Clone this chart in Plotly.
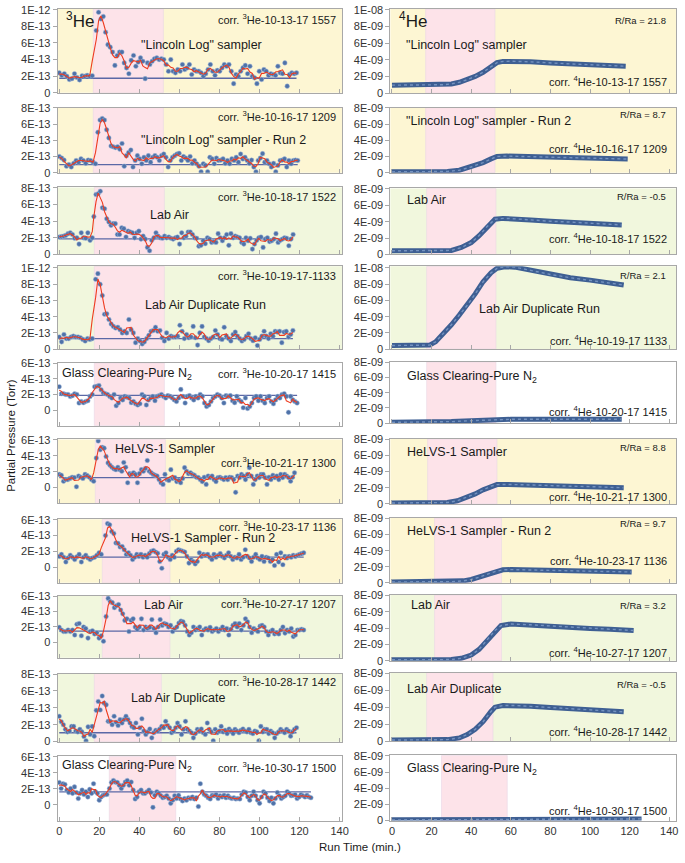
import numpy as np
import pandas as pd
import plotly.graph_objects as go

W, H = 685, 863

# ---------------- 3He data (partial pressure, units of 1E-13 Torr) ----------------
# each run: points before the sample inlet ("pre") and after ("post")
he3_pre_1 = [2.4, 2.1, 2.3, 2.0, 1.6, 1.7, 2.3, 1.85, 1.55, 2.05, 2.0, 2.1, 2.0, 2.05]
he3_post_1 = [7.5, 9.7, 8.9, 9.2, 7.3, 5.8, 5.5, 4.9, 3.3, 4.5, 4.9, 4.9, 3.6, 3.0, 2.3, 3.9, 4.5, 3.2, 3.7, 4.2,
              3.8, 1.7, 3.6, 3.4, 3.8, 4.1, 4.2, 4.0, 4.1, 4.0, 3.4, 2.6, 4.0, 2.6, 2.4, 2.8, 2.6, 3.4, 2.8, 3.0,
              3.4, 2.2, 2.8, 2.6, 2.6, 2.4, 2.0, 2.3, 2.8, 3.4, 2.6, 2.1, 2.7, 2.6, 3.0, 3.4, 3.2, 3.4, 2.6, 1.1,
              2.2, 2.0, 2.6, 3.0, 3.3, 2.3, 3.2, 2.0, 1.8, 1.1, 2.6, 1.6, 2.8, 2.6, 2.1, 2.3, 2.2, 2.1, 3.2, 2.4,
              2.3, 3.6, 0.8, 2.2, 2.4, 2.3, 2.4]
he3_pre_2 = [2.0, 1.8, 1.55, 0.8, 1.0, 0.7, 1.15, 1.5, 1.3, 1.7, 1.5, 1.15, 1.55, 1.5, 1.3, 1.1]
he3_post_2 = [5.0, 6.5, 6.7, 6.5, 5.3, 4.3, 3.3, 3.2, 3.1, 3.2, 2.9, 3.6, 0.8, 2.1, 2.5, 2.8, 0.7, 1.5, 2.1, 1.7,
              1.1, 1.9, 1.5, 2.1, 1.3, 1.9, 2.1, 1.9, 1.5, 2.1, 2.3, 1.9, 0.7, 1.5, 1.9, 2.1, 2.3, 2.4, 1.5, 2.0,
              1.8, 1.5, 2.0, 1.15, 1.5, 1.1, 0.8, 0.1, 1.1, 0.9, 0.1, 1.9, 1.7, 1.1, 1.8, 1.5, 1.55, 1.7, 1.15, 1.5,
              1.1, 1.7, 1.5, 1.9, 1.3, 2.3, 1.7, 1.9, 1.5, 1.15, 1.55, 0.7, 0.1, 1.5, 1.8, 2.35, 1.3, 1.5, 1.1, 0.7,
              1.15, 0.1, 0.9, 1.5, 1.55, 1.7, 0.7, 1.5, 1.1, 1.5, 1.55, 1.5]
he3_pre_3 = [2.1, 2.15, 2.2, 2.3, 2.5, 2.6, 2.4, 1.95, 2.0, 1.25, 2.6, 2.0, 1.95, 2.6, 1.7, 2.0]
he3_post_3 = [4.55, 7.2, 7.3, 7.6, 5.6, 5.5, 4.3, 3.9, 3.5, 3.7, 3.7, 2.4, 2.4, 3.2, 3.1, 2.1, 2.8, 2.7, 2.6, 2.0,
              2.6, 2.8, 1.85, 2.2, 1.85, 0.85, 0.45, 1.7, 2.0, 2.6, 2.2, 2.0, 1.95, 2.2, 2.0, 2.1, 1.95, 1.85, 2.0, 2.1,
              1.25, 2.6, 2.0, 2.2, 2.7, 2.7, 2.4, 2.0, 1.95, 1.0, 1.1, 1.65, 1.3, 2.0, 1.85, 1.45, 1.55, 1.45, 2.5, 2.0,
              1.65, 2.0, 2.4, 1.1, 2.5, 2.0, 2.2, 2.1, 2.0, 1.45, 1.25, 2.0, 1.65, 1.95, 0.65, 1.25, 1.7, 2.0, 2.1, 0.85,
              1.85, 2.0, 1.55, 1.65, 1.85, 2.5, 1.45, 1.7, 1.85, 2.0, 1.95, 1.05, 1.85, 2.4]
he3_pre_4 = [1.5, 0.9, 1.8, 1.3, 1.3, 1.5, 1.6, 1.5, 1.5, 1.4, 1.2, 1.0, 1.3, 1.2, 1.3]
he3_post_4 = [8.6, 9.3, 8.0, 6.6, 4.3, 4.35, 3.65, 3.1, 2.8, 2.6, 2.7, 2.4, 2.0, 2.2, 2.0, 3.65, 2.4, 2.0, 0.8, 1.3,
              1.0, 0.65, 0.9, 1.3, 1.7, 2.2, 2.3, 2.7, 2.2, 2.3, 1.4, 1.0, 2.0, 1.3, 1.6, 1.5, 1.5, 1.6, 2.95, 2.2,
              1.3, 1.8, 1.4, 1.5, 2.8, 1.4, 0.5, 2.0, 2.8, 1.5, 1.3, 1.05, 1.3, 1.5, 2.3, 1.8, 1.3, 1.2, 2.7, 1.6,
              1.3, 1.0, 1.8, 2.1, 1.6, 1.3, 1.0, 1.2, 1.6, 1.9, 1.3, 1.05, 1.4, 0.45, 1.2, 1.6, 2.2, 1.6, 1.3, 1.9,
              1.6, 2.2, 2.1, 2.2, 0.8, 2.1, 2.2, 1.5, 1.8, 2.3]
he3_pre_5 = [3.0, 2.1, 2.1, 2.0, 2.0, 1.75, 1.85, 2.1, 2.0, 0.9, 1.1, 0.95, 1.1, 1.2, 1.75, 2.0]
he3_post_5 = [3.0, 3.05, 3.15, 2.6, 2.2, 2.1, 2.0, 1.75, 1.55, 2.0, 0.55, 0.9, 1.55, 1.3, 1.75, 1.65, 1.55, 0.95, 1.1, 0.8,
              0.65, 0.8, 2.0, 1.75, 0.65, 1.3, 1.55, 1.75, 1.2, 1.75, 1.85, 2.0, 1.75, 1.55, 1.85, 1.75, 1.55, 1.3, 1.1, 1.55,
              2.65, 1.75, 0.9, 1.75, 1.85, 1.55, 1.3, 1.75, 1.55, 2.0, 1.75, 0.9, 0.45, 0.65, 1.1, 1.55, 1.75, 2.0, 1.85, 1.55,
              0.9, 1.85, 1.75, 1.85, 1.2, 0.95, 1.75, 1.3, 1.1, 0.3, 1.55, 0.2, 0.45, 0.9, 1.55, 1.75, 1.2, 1.75, 1.2, 0.9,
              1.55, 1.75, 1.1, 0.8, 1.3, 1.75, 1.55, 2.0, 2.1, 1.75, -0.3, 1.75, 1.3, 1.1, 0.9]
he3_pre_6 = [1.65, 1.55, 0.8, 1.0, 1.0, 1.15, 1.3, 1.25, 0.1, 1.45, 1.3, 1.15, 1.65, 1.5, 1.3, 1.0, 0.8]
he3_post_6 = [3.7, 5.85, 4.75, 5.05, 4.95, 3.9, 3.1, 2.8, 2.55, 2.35, 2.25, 2.55, 2.25, 2.05, 3.15, 2.55, 0.6, 1.75, 1.65, 1.85,
              1.65, 0.6, 1.75, 2.25, 2.05, 2.4, 3.4, 2.05, 1.85, 1.65, 1.55, 1.45, 1.0, 0.6, 0.4, 1.65, 1.0, 0.9, 2.25, 1.15,
              1.25, 0.75, 0.9, 0.6, 1.15, 2.5, 2.05, 1.75, 1.85, 1.65, 1.55, 1.3, 1.25, 1.0, 0.75, 1.3, 0.4, 1.45, 1.25, 1.45,
              1.0, 0.75, 1.25, 1.3, 1.15, 1.0, 1.25, 1.0, 1.3, 1.25, 1.0, -0.6, 1.45, 1.25, 1.65, 1.45, 1.0, 1.65, 2.5, 1.45,
              0.4, 1.0, 1.45, 1.25, 1.65, 1.65, 1.25, 0.4, 1.3, 1.0, 1.55, 1.25, 1.45, 1.0, 1.65, 1.25, 1.65, 1.45, 1.25, 0.8,
              1.3, 1.85]
he3_pre_7 = [1.35, 1.6, 1.25, 0.65, 1.15, 1.5, 1.25, 0.95, 1.3, 1.6, 0.65, 1.25, 1.5, 1.15, 0.95, 1.15, 1.25, 1.5, 1.8, 1.6]
he3_post_7 = [4.0, 5.5, 5.35, 4.5, 4.25, 3.05, 3.0, 2.55, 2.6, 2.2, 1.6, 1.8, 1.5, 0.95, 1.25, 1.6, 1.35, 1.6, 1.25, 1.5,
              1.25, 1.7, 2.0, 2.1, 1.9, 1.75, 0.7, -0.15, 1.6, 1.8, 1.25, 0.95, 1.5, 1.25, 2.0, 2.2, 2.1, 2.0, 1.9, 1.35,
              0.5, 0.95, 0.7, 0.4, 0.7, 1.8, 1.35, 1.6, 1.5, 1.6, 1.25, 0.95, 1.6, 1.25, 1.5, 1.7, 1.35, 1.15, 1.5, 1.8,
              1.35, 0.95, 1.25, 1.15, 1.6, 0.95, 1.25, 2.2, 1.35, 1.15, 0.7, 1.25, 1.6, 1.15, 0.95, 1.35, 0.7, 1.25, 1.15, 0.7,
              0.95, 0.2, 1.6, 0.65, 1.8, 0.3, 1.35, 1.15, 1.35, 1.25, 1.5, 1.35, 1.5, 1.6, 1.7, 1.8]
he3_pre_8 = [1.95, 1.6, 1.4, 1.4, 1.6, 1.4, 1.6, 0.95, 2.35, 2.45, 0.85, 2.0, 1.8, 0.55, 1.4, 1.5, 1.1, 1.25, 0.55, 0.85, 0.15]
he3_post_8 = [3.35, 5.7, 5.3, 5.15, 4.5, 4.75, 4.9, 4.2, 3.7, 2.85, 3.05, 1.4, 2.85, 3.05, 2.0, 1.7, 2.0, 3.05, 1.6, 2.0,
              1.8, 1.95, 2.95, 1.8, 1.25, 2.0, 2.95, 2.2, 2.45, 2.35, 2.0, 2.2, 1.4, 1.8, 2.0, 2.5, 2.75, 2.65, 2.2, 1.4,
              0.95, 1.25, 2.0, 1.6, 1.8, 2.0, 0.95, 1.6, 1.8, 1.6, 1.95, 1.4, 1.6, 1.8, 1.4, 1.7, 2.0, 1.6, 1.8, 0.95,
              1.7, 2.2, 2.45, 2.0, 2.45, 1.6, 2.2, 3.05, 2.65, 2.0, 1.25, 1.8, 1.6, 1.4, 2.1, 2.2, 2.0, 1.4, 0.95, 1.4,
              1.6, 1.1, 1.25, 1.1, 1.6, 2.0, 1.2, 1.6, 1.4, 1.8, 0.75, 0.95, 1.6, 1.6, 1.7, 1.6]
he3_pre_9 = [3.0, 2.35, 2.0, 1.45, 1.15, 1.25, 1.8, 1.8, 1.25, 1.15, 1.45, 1.15, 0.6, 0.1, 1.75, 0.85, 1.8, 0.65]
he3_post_9 = [3.7, 4.75, 3.75, 5.4, 4.55, 4.35, 2.4, 2.4, 2.0, 3.0, 2.3, 1.9, 2.6, 2.2, 2.6, 3.0, 2.6, 2.2, 1.8, 1.65,
              2.2, 0.85, 1.65, 2.7, 1.25, 0.85, 1.15, 1.5, 0.45, 1.05, 1.35, 1.25, 1.5, 1.8, 1.65, 2.4, 1.9, 1.65, 1.05, 1.25,
              1.65, 2.2, 1.8, 0.85, 1.45, 2.4, 1.45, 1.25, 1.05, 0.45, 0.95, 1.45, 1.25, 1.5, 1.05, 0.85, 2.2, 1.45, 1.15, 0.1,
              1.45, 1.05, 1.25, 1.8, 1.15, 1.35, 0.95, 1.5, 1.25, 0.95, 1.45, 1.25, 1.05, 1.35, 1.5, 1.25, 1.15, 1.45, 1.05, 0.95,
              1.25, 1.15, 0.1, 1.8, 1.15, 1.45, 1.45, 0.95, 1.25, 1.05, 0.45, 0.95, 1.15, 1.45, 1.25, 1.05, 1.45, 1.25, 0.65, 1.15,
              1.45, 1.65]
he3_pre_10 = [2.8, 2.05, 2.65, 2.55, 1.85, 1.55, 2.05, 1.45, 2.25, 1.55, 0.8, 1.45, 1.85, 1.3, 1.65, 1.0, 1.95, 1.45,
              2.65, 1.65, 1.45, 0.6, 1.0, 1.2, 1.3, 1.3]
he3_post_10 = [2.05, 2.8, 3.05, 2.85, 2.8, 2.45, 2.05, 2.45, 2.85, 3.05, 2.45, 2.85, 1.85, 0.75, 1.0, 1.65, 1.85, 1.45, 1.45, 1.65,
               1.85, 1.55, -0.3, 1.2, 1.65, 1.45, 1.15, 0.9, 1.0, 1.15, 0.8, 0.2, 0.6, 1.15, 0.8, 1.2, 0.75, 0.5, 0.8, 0.6,
               0.9, 0.8, 1.0, 0.75, 0.9, -0.2, 2.65, 1.65, 1.3, 1.15, 0.9, 0.75, 1.2, 1.15, 1.3, 0.8, 1.15, 1.0, 1.2, 0.9,
               1.15, 0.9, 0.8, 0.9, 0.75, 0.8, 0.75, 1.3, 1.65, 1.55, 1.0, 0.6, 1.15, 1.65, 1.15, 0.6, 0.2, 1.0, 1.65, 1.45,
               0.9, 0.5, 0.9, 0.2, 0.8, 1.55, 1.15, 0.8, 1.0, 1.15, 1.65, 1.45, 1.15, 1.2, 1.3, 0.8, 1.0, 1.3, 1.15, 1.0,
               1.2, 1.0, 0.9]

# sampling times (min): end of pre-inlet points, first and last post-inlet points
he3_pre_end = [16.5, 18.1, 16.5, 16.5, 16.5, 17.2, 21.0, 22.1, 17.5, 23.8]
he3_post_start = [18.5, 19.3, 17.3, 18.2, 17.7, 18.5, 23.1, 23.4, 18.5, 25.1]
he3_post_end = [118.5, 119.1, 116.8, 116.7, 118.8, 117.5, 122.1, 122.1, 118.5, 125.7]
# background (blank) level, 1E-13 Torr
he3_baseline = [1.75, 1.0, 1.88, 1.3, 1.88, 1.24, 1.27, 1.47, 1.05, 1.63]

# ---------------- 4He data (partial pressure, units of 1E-09 Torr) ----------------
he4_t_1 = [0, 10, 20, 26, 30, 34, 38, 42, 46, 50, 53, 56, 60, 70, 80, 90, 100, 110, 118]
he4_v_1 = [0.95, 0.95, 0.97, 1.0, 1.1, 1.3, 1.6, 2.0, 2.5, 3.1, 3.65, 3.8, 3.82, 3.75, 3.6, 3.5, 3.4, 3.3, 3.22]
he4_t_2 = [0, 20, 28, 34, 40, 46, 50, 53, 58, 70, 80, 90, 100, 110, 119]
he4_v_2 = [0.1, 0.1, 0.15, 0.3, 0.7, 1.25, 1.7, 2.0, 2.05, 1.98, 1.9, 1.85, 1.8, 1.72, 1.68]
he4_t_3 = [0, 20, 30, 35, 40, 44, 48, 52, 56, 60, 70, 80, 90, 100, 110, 116]
he4_v_3 = [0.45, 0.45, 0.5, 0.85, 1.45, 2.3, 3.4, 4.3, 4.4, 4.38, 4.2, 4.05, 3.95, 3.85, 3.7, 3.6]
he4_t_4 = [0, 10, 19, 22, 26, 30, 34, 38, 42, 46, 50, 53, 57, 62, 70, 80, 90, 100, 110, 117]
he4_v_4 = [0.45, 0.45, 0.5, 0.9, 1.9, 3.0, 4.2, 5.4, 6.8, 8.3, 9.4, 9.95, 10.15, 10.1, 9.7, 9.2, 8.8, 8.5, 8.2, 7.9]
he4_t_5 = [0, 20, 30, 40, 52, 60, 80, 100, 116]
he4_v_5 = [0.1, 0.12, 0.2, 0.32, 0.48, 0.5, 0.5, 0.52, 0.52]
he4_t_6 = [0, 20, 28, 33, 38, 42, 46, 50, 53, 58, 70, 80, 90, 100, 110, 117]
he4_v_6 = [0.12, 0.12, 0.18, 0.4, 0.85, 1.25, 1.75, 2.2, 2.4, 2.42, 2.35, 2.25, 2.2, 2.15, 2.05, 2.0]
he4_t_7 = [0, 20, 30, 36, 40, 44, 48, 52, 56, 60, 70, 80, 90, 100, 110, 121]
he4_v_7 = [0.12, 0.12, 0.15, 0.25, 0.42, 0.7, 1.05, 1.4, 1.62, 1.65, 1.6, 1.55, 1.5, 1.45, 1.4, 1.35]
he4_t_8 = [0, 20, 30, 35, 40, 44, 48, 52, 55, 60, 70, 80, 90, 100, 110, 122]
he4_v_8 = [0.12, 0.12, 0.15, 0.3, 0.7, 1.4, 2.5, 3.7, 4.3, 4.5, 4.4, 4.25, 4.1, 3.95, 3.85, 3.7]
he4_t_9 = [0, 20, 28, 34, 38, 42, 46, 50, 52, 56, 62, 70, 80, 90, 100, 110, 117]
he4_v_9 = [0.15, 0.15, 0.2, 0.4, 0.8, 1.4, 2.3, 3.5, 4.0, 4.2, 4.2, 4.1, 3.95, 3.8, 3.65, 3.55, 3.45]
he4_t_10 = [0, 30, 60, 90, 126]
he4_v_10 = [0.08, 0.1, 0.15, 0.18, 0.2]

# ---------------- labels ----------------
sample_names = ['"Lincoln Log" sampler', '"Lincoln Log" sampler - Run 2', 'Lab Air', 'Lab Air Duplicate Run',
                'Glass Clearing-Pure N<sub>2</sub>', 'HeLVS-1 Sampler', 'HeLVS-1 Sampler - Run 2', 'Lab Air',
                'Lab Air Duplicate', 'Glass Clearing-Pure N<sub>2</sub>']
corr_3he = ['corr. <sup>3</sup>He-10-13-17 1557', 'corr. <sup>3</sup>He-10-16-17 1209', 'corr. <sup>3</sup>He-10-18-17 1522',
            'corr. <sup>3</sup>He-10-19-17-1133', 'corr. <sup>3</sup>He-10-20-17 1415', 'corr.<sup>3</sup>He-10-21-17 1300',
            'corr. <sup>3</sup>He-10-23-17 1136', 'corr.<sup>3</sup>He-10-27-17 1207', 'corr. <sup>3</sup>He-10-28-17 1442',
            'corr. <sup>3</sup>He-10-30-17 1500']
corr_4he = ['corr. <sup>4</sup>He-10-13-17 1557', 'corr. <sup>4</sup>He-10-16-17 1209', 'corr. <sup>4</sup>He-10-18-17 1522',
            'corr. <sup>4</sup>He-10-19-17 1133', 'corr. <sup>4</sup>He-10-20-17 1415', 'corr. <sup>4</sup>He-10-21-17 1300',
            'corr. <sup>4</sup>He-10-23-17 1136', 'corr. <sup>4</sup>He-10-27-17 1207', 'corr. <sup>4</sup>He-10-28-17 1442',
            'corr. <sup>4</sup>He-10-30-17 1500']
r_over_ra = ['21.8', '8.7', '-0.5', '2.1', None, '8.8', '9.7', '3.2', '-0.5', None]
sample_type = ['sampler', 'sampler', 'air', 'air', 'blank', 'sampler', 'sampler', 'air', 'air', 'blank']
inlet_start = [17, 17, 17.5, 17.5, 17.5, 18, 21.5, 21.5, 17.5, 25]
inlet_end = [52, 52, 52.5, 52.5, 52.5, 53, 55.3, 55.3, 51, 58.2]
x_ticks = [0, 20, 40, 60, 80, 100, 120, 140]

he3_pre = [he3_pre_1, he3_pre_2, he3_pre_3, he3_pre_4, he3_pre_5, he3_pre_6, he3_pre_7, he3_pre_8, he3_pre_9, he3_pre_10]
he3_post = [he3_post_1, he3_post_2, he3_post_3, he3_post_4, he3_post_5, he3_post_6, he3_post_7, he3_post_8, he3_post_9, he3_post_10]
he4_t = [he4_t_1, he4_t_2, he4_t_3, he4_t_4, he4_t_5, he4_t_6, he4_t_7, he4_t_8, he4_t_9, he4_t_10]
he4_v = [he4_v_1, he4_v_2, he4_v_3, he4_v_4, he4_v_5, he4_v_6, he4_v_7, he4_v_8, he4_v_9, he4_v_10]

# ---------------- styling / layout ----------------
FONT = "Liberation Sans, Arial, sans-serif"
BG = {'sampler': '#fdf6d3', 'air': '#f1f7dd', 'blank': '#ffffff'}
PINK = '#fde3e9'
FRAME = '#a8a8a8'
DOT = '#4f72a8'
RED = '#ee3b1f'
BASE = '#5b68a6'
CURVE = '#3e5f93'

# frame pixel positions (top, bottom)
left_rows = [(3, 88), (103, 169), (184, 252), (264, 348), (362, 425.5), (439.5, 504.5), (520.5, 585), (598, 661), (677, 746), (761, 826.5)]
right_rows = [(3, 88.3), (103, 169), (185, 252), (264, 348), (361, 423), (439, 505), (519.3, 585), (597.3, 664), (676, 745.7), (760, 826)]
left_ranges = [(0, 10.1), (0, 8.05), (0, 8.05), (0, 10.2), (-2, 6.05), (-2, 6.05), (-2, 6.05), (-2, 6.05), (0, 8.05), (-2, 6.05)]
right_ranges = [(0, 10.1), (0, 8.05), (0, 8.05), (0, 10.2), (0, 8.05), (0, 8.05), (0, 8.05), (0, 8.05), (0, 8.05), (0, 8.05)]
LX = (57.3, 345)
RX = (394, 683)

def px(x):
    return x / W

def py(y):
    return 1 - y / H

fig = go.Figure()
shapes = []
annotations = []
layout = {}

def ytick_text(vals, suffix, top10):
    out = []
    for v in vals:
        if v == 0:
            out.append('0')
        elif v == 10:
            out.append(top10)
        else:
            out.append('%dE-%s' % (v, suffix))
    return out

for r in range(10):
    for side in (0, 1):
        k = 2 * r + side + 1
        xa = 'x' if k == 1 else 'x%d' % k
        ya = 'y' if k == 1 else 'y%d' % k
        xkey = 'xaxis' if k == 1 else 'xaxis%d' % k
        ykey = 'yaxis' if k == 1 else 'yaxis%d' % k
        if side == 0:
            top, bot = left_rows[r]
            xd = LX
            yr = left_ranges[r]
            xr = [-0.8, 141.2]
        else:
            top, bot = right_rows[r]
            xd = RX
            yr = right_ranges[r]
            xr = [-0.8, 143.4]
        yt = [v for v in range(0, 11, 2) if yr[0] <= v <= yr[1] + 1e-9]
        if side == 0:
            ytt = ytick_text(yt, '13', '1E-12')
        else:
            ytt = ytick_text(yt, '09', '1E-08')
        layout[xkey] = dict(domain=[px(xd[0]), px(xd[1])], range=xr, anchor=ya,
                            tickvals=x_ticks, ticks='inside', ticklen=4, tickcolor=FRAME,
                            showticklabels=(r == 9), tickfont=dict(size=11, color='#333', family=FONT),
                            showgrid=False, zeroline=False, showline=True, mirror=True,
                            linecolor=FRAME, linewidth=1)
        layout[ykey] = dict(domain=[py(bot), py(top)], range=list(yr), anchor=xa,
                            tickvals=yt, ticktext=ytt, ticks='outside', ticklen=4, tickcolor=FRAME,
                            tickfont=dict(size=11, color='#333', family=FONT),
                            showgrid=False, zeroline=False, showline=True, mirror=True,
                            linecolor=FRAME, linewidth=1)
        # backgrounds
        shapes.append(dict(type='rect', xref=xa + ' domain', yref=ya + ' domain', x0=0, x1=1, y0=0, y1=1,
                           fillcolor=BG[sample_type[r]], line=dict(width=0), layer='below'))
        shapes.append(dict(type='rect', xref=xa, yref=ya + ' domain', x0=inlet_start[r], x1=inlet_end[r], y0=0, y1=1,
                           fillcolor=PINK, line=dict(width=0.6, color='#ead6e6'), layer='below'))

        if side == 0:
            pre = he3_pre[r]
            post = he3_post[r]
            t = np.concatenate([np.linspace(0, he3_pre_end[r], len(pre)),
                                np.linspace(he3_post_start[r], he3_post_end[r], len(post))])
            v = np.array(pre + post)
            smooth = pd.Series(v).rolling(3, center=True, min_periods=1).mean().values
            fig.add_trace(go.Scatter(x=[0, he3_post_end[r]], y=[he3_baseline[r], he3_baseline[r]], mode='lines',
                                     line=dict(color=BASE, width=1.3), xaxis=xa, yaxis=ya, showlegend=False,
                                     hoverinfo='skip'))
            fig.add_trace(go.Scatter(x=t, y=v, mode='markers',
                                     marker=dict(size=4.6, color=DOT, line=dict(width=0.5, color='#a3b8da')),
                                     xaxis=xa, yaxis=ya, showlegend=False))
            fig.add_trace(go.Scatter(x=t, y=smooth, mode='lines', line=dict(color=RED, width=1.1),
                                     xaxis=xa, yaxis=ya, showlegend=False, hoverinfo='skip'))
        else:
            fig.add_trace(go.Scatter(x=he4_t[r], y=he4_v[r], mode='lines', line=dict(color=CURVE, width=5),
                                     xaxis=xa, yaxis=ya, showlegend=False))
            fig.add_trace(go.Scatter(x=he4_t[r], y=he4_v[r], mode='lines',
                                     line=dict(color='#7593c0', width=1.4, dash='dot'),
                                     xaxis=xa, yaxis=ya, showlegend=False, hoverinfo='skip'))

def ann(text, x, y, size, anchor='center', angle=0, color='#1a1a1a'):
    annotations.append(dict(text=text, x=px(x), y=py(y), xref='paper', yref='paper', showarrow=False,
                            xanchor=anchor, yanchor='middle', textangle=angle,
                            font=dict(size=size, color=color, family=FONT)))

# left column labels
name_pos_left = [(203, 40, 'center'), (225, 136, 'center'), (170, 212, 'center'), (207, 303, 'center'),
                 (60, 373, 'left'), (166, 449, 'center'), (204, 540, 'center'), (164, 607, 'center'),
                 (180, 702, 'center'), (60, 771, 'left')]
corr_y_left = [13, 112, 193, 273, 372, 462, 527, 605, 685, 772]
name_pos_right = [(408, 40, 'left'), (408, 117, 'left'), (409, 197, 'left'), (545, 307, 'center'),
                  (409, 376, 'left'), (409, 452, 'left'), (409, 532, 'left'), (413, 607, 'left'),
                  (409, 693, 'left'), (409, 774, 'left')]
corr_y_right = [76, 144, 235, 339, 411, 497, 562, 655, 735, 815]
rra_y = [15, 110, 193, 273, None, 448, 525, 608, 688, None]

for r in range(10):
    x, y, a = name_pos_left[r]
    ann(sample_names[r], x, y, 12.5, a)
    ann(corr_3he[r], 341, corr_y_left[r], 11, 'right')
    x, y, a = name_pos_right[r]
    ann(sample_names[r], x, y, 12.5, a)
    ann(corr_4he[r], 676, corr_y_right[r], 11, 'right')
    if r_over_ra[r] is not None:
        ann('R/Ra = ' + r_over_ra[r], 675, rra_y[r], 9.5, 'right')

ann('<sup>3</sup>He', 64, 14, 17, 'left')
ann('<sup>4</sup>He', 401, 14, 17, 'left')
ann('Partial Pressure (Torr)', 10, 435, 11.5, 'center', -90)
ann('Run Time (min.)', 363, 853, 11.5, 'center')

fig.update_layout(width=W, height=H, margin=dict(l=0, r=0, t=0, b=0), autosize=False,
                  paper_bgcolor='white', plot_bgcolor='white', showlegend=False,
                  font=dict(family=FONT, size=11, color='#333'),
                  shapes=shapes, annotations=annotations, **layout)

fig.write_html("out.html", config={'displayModeBar': False},
               post_script="document.body.style.margin='0';document.body.style.padding='0';"
                           "document.body.style.overflow='hidden';")
